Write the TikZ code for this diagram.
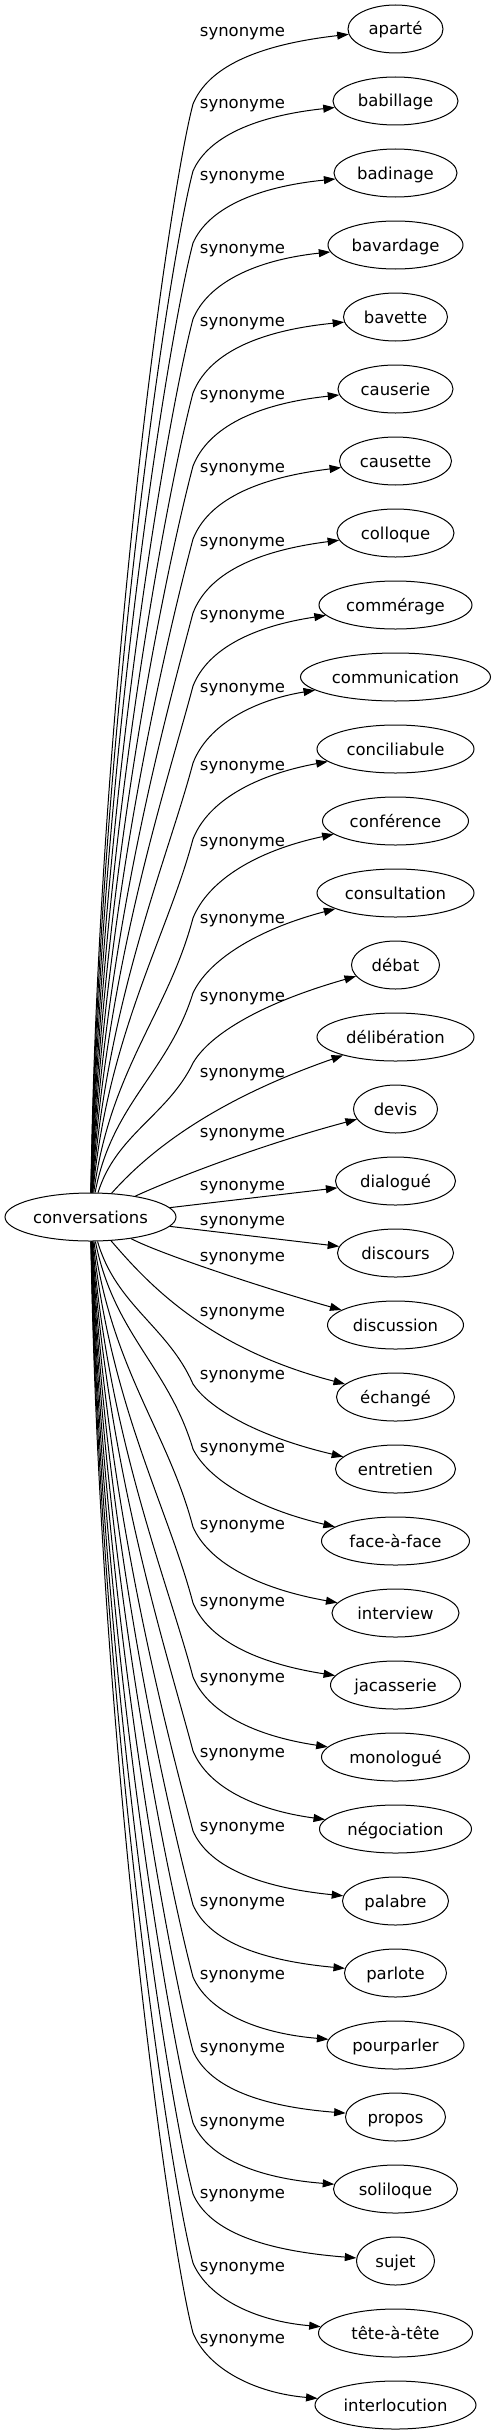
\documentclass[tikz,border=0pt]{standalone}
\usepackage{fontspec}
\setmainfont{DejaVu Sans}
\usetikzlibrary{arrows.meta,shapes.geometric}
\begin{document}
\begin{tikzpicture}[x=1bp,y=-1bp,
  every node/.style={font=\fontsize{16.45bp}{20bp}\selectfont},
  tgt/.style={draw, ellipse, line width=1bp, inner sep=0pt, minimum height=48bp, text height=14bp, text depth=2bp},
  lbl/.style={anchor=base, inner sep=0pt},
  synedge/.style={draw, line width=1bp, -{Triangle[length=11.5bp,width=8bp]}}
]
\useasboundingbox (0,0) rectangle (496,2435);

\node[tgt, minimum width=171bp] (conv) at (90.5,1217) {conversations};

\foreach \i/\txt/\w in {0/aparté/95,1/babillage/125,2/badinage/123,3/bavardage/135,4/bavette/104,5/causerie/115,6/causette/112,7/colloque/117,8/commérage/153,9/communication/190,10/conciliabule/157,11/conférence/146,12/consultation/157,13/débat/88,14/délibération/157,15/devis/84,16/dialogué/120,17/discours/116,18/discussion/136,19/échangé/118,20/entretien/120,21/face-à-face/148,22/interview/127,23/jacasserie/130,24/monologué/148,25/négociation/152,26/palabre/106,27/parlote/102,28/pourparler/137,29/propos/100,30/soliloque/124,31/sujet/78,32/tête-à-tête/154,33/interlocution/161}
  \node[tgt, minimum width=\w bp] (t\i) at (395.5,{29+72*\i}) {\txt};

\foreach \i/\ly in {0/33,1/105,2/176,3/249,4/322,5/395,6/468,7/542,8/615,9/688,10/766,11/842,12/919,13/997,14/1073,15/1133,16/1186,17/1221,18/1257,19/1312,20/1375,21/1448,22/1525,23/1602,24/1678,25/1753,26/1827,27/1902,28/1975,29/2048,30/2122,31/2194,32/2267,33/2339}
  \node[lbl] (l\i) at (242.5,{\ly+4}) {synonyme};

\foreach \i/\a/\ct/\cf/\cx in {0/75/39/16/98,1/70/36/15/99,2/70/36/14/100,3/74/38/15/101,4/76/38/14/102,5/77/39/15/103,6/78/40/17/104,7/80/41/18/105,8/81/43/21/106,9/86/47/23/107,10/90/52/26/108,11/97/60/30/110,12/100/68/37/112,13/98/72/40/116,20/85/62/33/116,21/92/62/33/114,22/86/52/25/112,23/82/46/22/110,24/80/44/21/108,25/78/42/19/107,26/70/36/14/106,27/68/34/13/105,28/68/34/12/104,29/66/32/11/103,30/66/32/11/102,31/67/33/11/101,32/70/35/12/100,33/72/36/12/99}
{
  \pgfmathsetmacro\s{\i<17 ? 1 : -1}
  \pgfmathsetmacro\yt{29+72*\i}
  \pgfmathsetmacro\Jy{\yt+(\s)*\a}
  \pgfmathsetmacro\Sy{1217-(\s)*24}
  \pgfmathsetmacro\L{abs(\Sy-\Jy)}
  \pgfmathsetmacro\cay{\Sy-(\s)*0.45*\L}
  \pgfmathsetmacro\cby{\Jy+(\s)*min(95,0.4*\L)}
  \pgfmathsetmacro\ccy{\yt+(\s)*\ct}
  \pgfmathsetmacro\cdy{\yt+(\s)*\cf}
  \draw[synedge] (conv) .. controls (\cx,\cay) and (168,\cby) .. (193,\Jy) .. controls (208,\ccy) and (255,\cdy) .. (t\i);
}

\draw[synedge] (conv) .. controls (150,1150) and (215,1100) .. (t14);
\draw[synedge] (conv) .. controls (170,1180) and (260,1145) .. (t15);
\draw[synedge] (conv) -- (t16);
\draw[synedge] (conv) -- (t17);
\draw[synedge] (conv) .. controls (160,1254) and (270,1290) .. (t18);
\draw[synedge] (conv) .. controls (145,1280) and (205,1348) .. (t19);
\end{tikzpicture}
\end{document}
